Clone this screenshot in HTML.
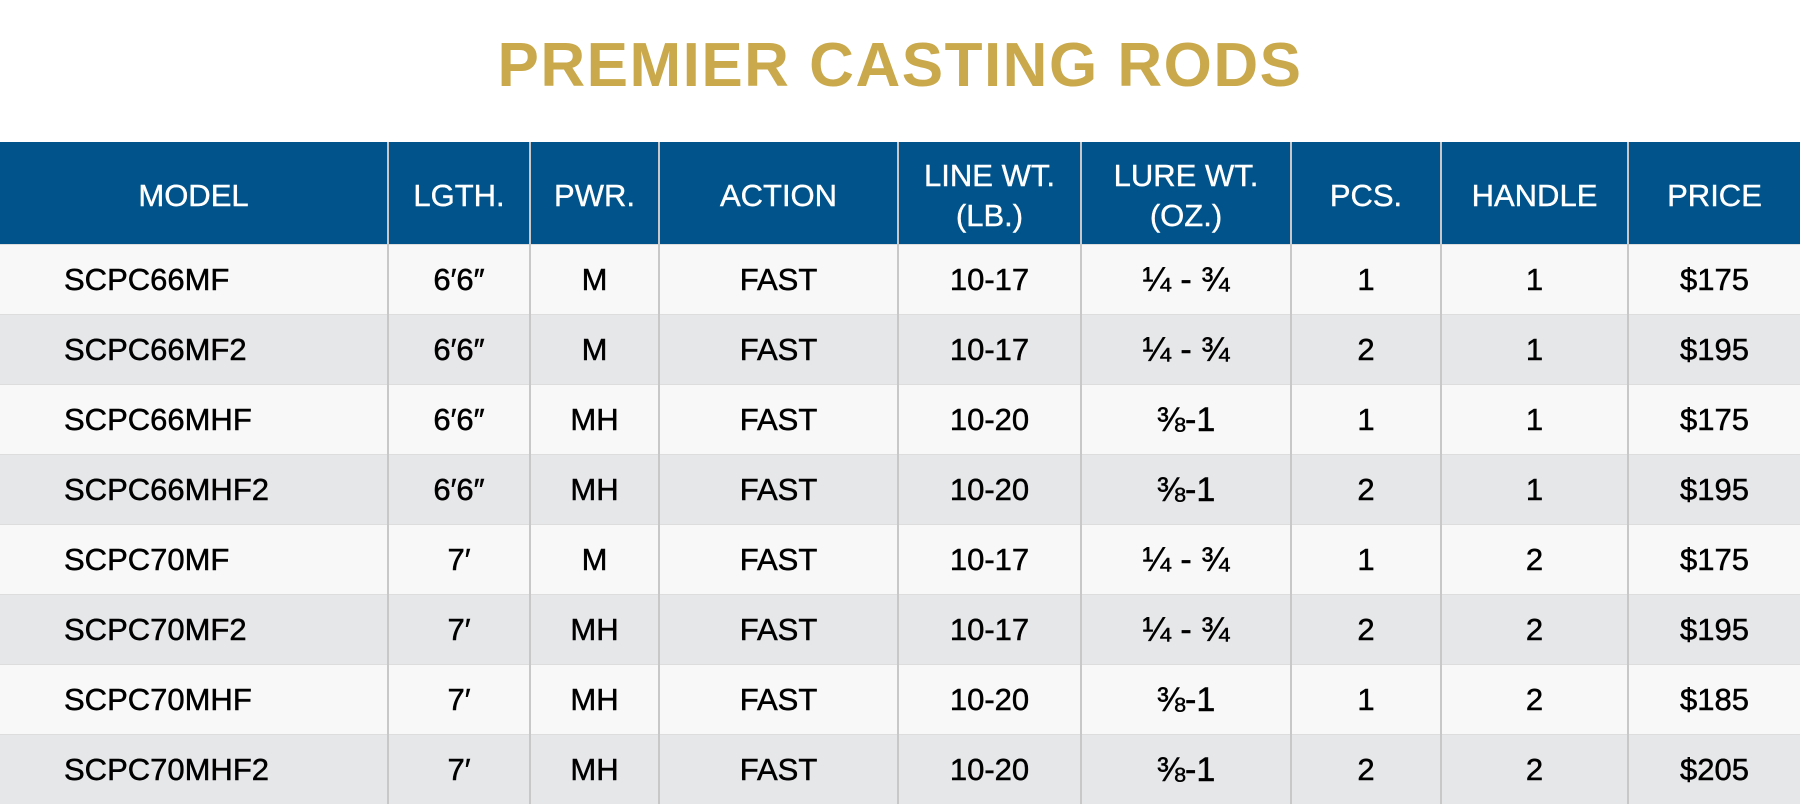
<!DOCTYPE html>
<html><head><style>
body{margin:0;width:1800px;height:804px;background:#fff;font-family:"Liberation Sans",sans-serif;overflow:hidden;position:relative}
.title{position:absolute;top:30px;left:0;width:1800px;text-align:center;font-size:62px;font-weight:bold;color:#c9a94b;letter-spacing:1.5px}
table{position:absolute;top:142px;left:0;width:1800px;border-collapse:collapse;table-layout:fixed}
th{background:#00548b;color:#fff;font-weight:normal;font-size:31px;height:102px;line-height:40px;padding:0;border-left:2px solid #c8c8c8;-webkit-text-stroke:0.4px #fff}
th span{position:relative;top:3px}
td{height:69px;font-size:31px;line-height:36px;color:#000;text-align:center;padding:0;border-left:2px solid #c8c8c8;border-top:1px solid #ddd;-webkit-text-stroke:0.5px #000}
th:first-child,td:first-child{border-left:none}
td:first-child{text-align:left;padding-left:64px}
tr:nth-child(odd) td{background:#f8f8f8}
tr:nth-child(even) td{background:#e6e7e9}
.f{font-size:34px;line-height:36px}
</style></head><body>
<div class="title">PREMIER CASTING RODS</div>
<table>
<colgroup><col style="width:388px"><col style="width:142px"><col style="width:129px"><col style="width:239px"><col style="width:183px"><col style="width:210px"><col style="width:150px"><col style="width:187px"><col style="width:172px"></colgroup>
<thead><tr><th><span>MODEL</span></th><th><span>LGTH.</span></th><th><span>PWR.</span></th><th><span>ACTION</span></th><th><span>LINE WT.<br>(LB.)</span></th><th><span>LURE WT.<br>(OZ.)</span></th><th><span>PCS.</span></th><th><span>HANDLE</span></th><th><span>PRICE</span></th></tr></thead>
<tbody>
<tr><td>SCPC66MF</td><td>6′6″</td><td>M</td><td>FAST</td><td>10-17</td><td class="f">¼ - ¾</td><td>1</td><td>1</td><td>$175</td></tr>
<tr><td>SCPC66MF2</td><td>6′6″</td><td>M</td><td>FAST</td><td>10-17</td><td class="f">¼ - ¾</td><td>2</td><td>1</td><td>$195</td></tr>
<tr><td>SCPC66MHF</td><td>6′6″</td><td>MH</td><td>FAST</td><td>10-20</td><td class="f">⅜-1</td><td>1</td><td>1</td><td>$175</td></tr>
<tr><td>SCPC66MHF2</td><td>6′6″</td><td>MH</td><td>FAST</td><td>10-20</td><td class="f">⅜-1</td><td>2</td><td>1</td><td>$195</td></tr>
<tr><td>SCPC70MF</td><td>7′</td><td>M</td><td>FAST</td><td>10-17</td><td class="f">¼ - ¾</td><td>1</td><td>2</td><td>$175</td></tr>
<tr><td>SCPC70MF2</td><td>7′</td><td>MH</td><td>FAST</td><td>10-17</td><td class="f">¼ - ¾</td><td>2</td><td>2</td><td>$195</td></tr>
<tr><td>SCPC70MHF</td><td>7′</td><td>MH</td><td>FAST</td><td>10-20</td><td class="f">⅜-1</td><td>1</td><td>2</td><td>$185</td></tr>
<tr><td>SCPC70MHF2</td><td>7′</td><td>MH</td><td>FAST</td><td>10-20</td><td class="f">⅜-1</td><td>2</td><td>2</td><td>$205</td></tr>
</tbody></table>
</body></html>
